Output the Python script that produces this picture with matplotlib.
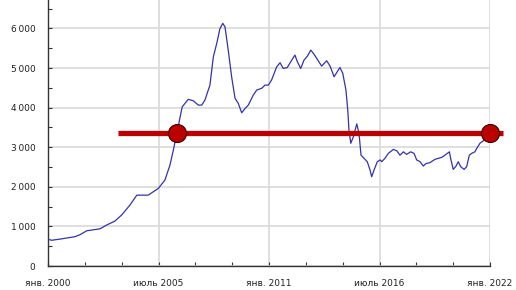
import numpy as np
import matplotlib
matplotlib.use("Agg")
import matplotlib.pyplot as plt
from matplotlib.ticker import FixedLocator, FuncFormatter, MultipleLocator

# price series (x in decimal years)
years = [2000.0, 2000.18, 2000.60, 2001.34, 2001.59, 2001.93, 2002.59, 2002.92, 2003.33,
         2003.67, 2004.08, 2004.42, 2004.99, 2005.49, 2005.82, 2006.07, 2006.24, 2006.41,
         2006.68, 2006.98, 2007.23, 2007.48, 2007.65, 2007.81, 2008.06, 2008.23, 2008.40,
         2008.56, 2008.70, 2008.81, 2008.97, 2009.14, 2009.31, 2009.47, 2009.64, 2009.81,
         2009.97, 2010.22, 2010.39, 2010.64, 2010.80, 2010.97, 2011.13, 2011.38, 2011.55,
         2011.71, 2011.91, 2012.13, 2012.29, 2012.41, 2012.58, 2012.74, 2012.91, 2013.08,
         2013.24, 2013.45, 2013.62, 2013.87, 2014.04, 2014.24, 2014.40, 2014.53, 2014.67,
         2014.83, 2014.92, 2014.98, 2015.07, 2015.20, 2015.37, 2015.48, 2015.58, 2015.73,
         2015.89, 2016.03, 2016.11, 2016.23, 2016.39, 2016.53, 2016.61, 2016.77, 2016.94,
         2017.19, 2017.36, 2017.52, 2017.69, 2017.85, 2018.05, 2018.22, 2018.35, 2018.52,
         2018.68, 2018.82, 2019.01, 2019.26, 2019.43, 2019.60, 2019.76, 2019.98, 2020.04,
         2020.17, 2020.31, 2020.42, 2020.54, 2020.71, 2020.84, 2020.97, 2021.09, 2021.25,
         2021.34, 2021.50, 2021.67, 2021.92, 2022.0]
values = [675, 650, 680, 740, 790, 890, 940, 1035, 1135,
          1290, 1540, 1790, 1790, 1960, 2170, 2550, 2930, 3350,
          4020, 4210, 4175, 4065, 4065, 4190, 4570, 5285, 5625,
          6000, 6130, 6040, 5455, 4780, 4235, 4110, 3870, 3980,
          4065, 4320, 4445, 4490, 4570, 4570, 4700, 5030, 5135,
          4990, 5015, 5200, 5330, 5160, 4990, 5200, 5300, 5455,
          5350, 5185, 5050, 5185, 5050, 4780, 4910, 5015, 4870,
          4445, 3940, 3435, 3100, 3265, 3590, 3350, 2800, 2720,
          2635, 2425, 2255, 2425, 2635, 2680, 2635, 2720, 2845,
          2945, 2910, 2800, 2885, 2820, 2885, 2845, 2680, 2635,
          2525, 2590, 2610, 2695, 2720, 2745, 2800, 2885, 2720,
          2440, 2525, 2635, 2510, 2440, 2510, 2800, 2845, 2885,
          2970, 3100, 3165, 3310, 3350]

# horizontal level with its two crossing points
level = 3350
level_span = [2003.48, 2022.65]
cross_years = [2006.41, 2022.0]

tick_years = [2000.0, 2005.5, 2011.0, 2016.5, 2022.0]
tick_labels = ["янв. 2000", "июль 2005", "янв. 2011", "июль 2016", "янв. 2022"]

fig = plt.figure(figsize=(5.16, 2.90), dpi=100)
ax = fig.add_axes([48 / 516, 24 / 290, 442 / 516, 266 / 290])

ax.plot(years, values, color="#3333aa", lw=0.9, zorder=3)
ax.plot(level_span, [level, level], color="#bb0000", lw=3.8, solid_capstyle="butt",
        clip_on=False, zorder=4)
ax.plot(cross_years, [level] * len(cross_years), "o", ms=13, mfc="#bb0000",
        mec="#3a0000", mew=0.8, clip_on=False, zorder=5)

ax.set_xlim(2000, 2022)
ax.set_ylim(0, 6720)

ax.xaxis.set_major_locator(FixedLocator(tick_years))
ax.set_xticklabels(tick_labels)
ax.xaxis.set_minor_locator(FixedLocator(np.arange(2000, 2022.01, 22 / 12)))
ax.yaxis.set_major_locator(MultipleLocator(1000))
ax.yaxis.set_minor_locator(MultipleLocator(500))
ax.yaxis.set_major_formatter(FuncFormatter(
    lambda v, p: "0" if v == 0 else f"{int(v):,}".replace(",", "\u2009")))

ax.grid(True, which="major", color="#d9d9d9", lw=1.2, zorder=0)
for side in ["top", "right"]:
    ax.spines[side].set_visible(False)
for side in ["left", "bottom"]:
    ax.spines[side].set_color("#333333")
    ax.spines[side].set_linewidth(1.0)

ax.tick_params(which="both", direction="in", length=3, width=0.8, color="#333333",
               labelsize=6.5, labelcolor="#222222")
ax.tick_params(axis="x", pad=9)
ax.tick_params(axis="y", pad=9)

fig.savefig("out.png", dpi=100)
